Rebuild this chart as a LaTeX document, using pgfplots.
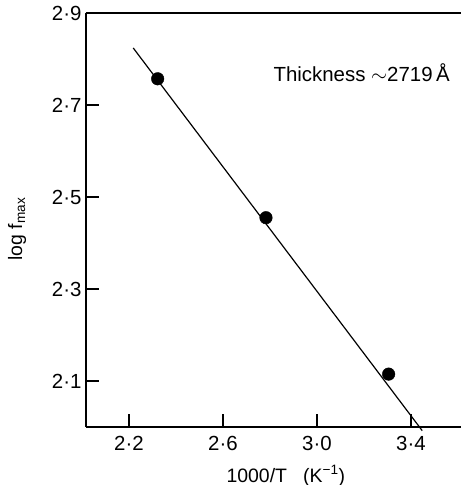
\documentclass[border=0pt]{standalone}
\usepackage{pgfplots}
\pgfplotsset{compat=1.18}
\usepackage{fontspec}
\setmainfont{Liberation Sans}
\begin{document}
\begin{tikzpicture}
\path[use as bounding box] (-86bp,-58bp) rectangle (375bp,427bp);
\begin{axis}[
  at={(0,0)}, anchor=south west,
  scale only axis, width=375bp, height=414bp,
  xmin=2.017, xmax=3.613, ymin=2.0, ymax=2.9,
  axis x line*=box, axis y line*=left,
  xtick pos=left, ytick pos=left,
  xtick={2.2,2.6,3.0,3.4}, xticklabels={2·2,2·6,3·0,3·4},
  ytick={2.1,2.3,2.5,2.7,2.9}, yticklabels={2·1,2·3,2·5,2·7,2·9},
  tick align=inside, major tick length=13bp,
  axis line style={line width=1.3pt},
  every tick/.style={black, line width=1.1pt},
  ticklabel style={font=\fontsize{20.5}{20.5}\selectfont},
  xticklabel style={yshift=-6bp},
  yticklabel style={xshift=-1bp},
  xlabel={1000/T\ \ \ (K\textsuperscript{−1})},
  ylabel={log f\textsubscript{max}},
  label style={font=\fontsize{19.5}{19.5}\selectfont},
  xlabel style={at={(axis description cs:0.533,-0.118)}, anchor=center},
  ylabel style={at={(axis description cs:-0.184,0.478)}, anchor=center},
  clip=false,
]
\addplot[black, line width=1.2pt, no marks] coordinates {(2.218,2.824) (3.448,1.992)};
\addplot[black, only marks, mark=*, mark size=6.3bp] coordinates {(2.322,2.757) (2.783,2.455) (3.305,2.115)};
\node[font=\fontsize{20.5}{20.5}\selectfont] at (axis cs:3.19,2.77) {Thickness $\sim$2719\,Å};
\end{axis}
\end{tikzpicture}
\end{document}
